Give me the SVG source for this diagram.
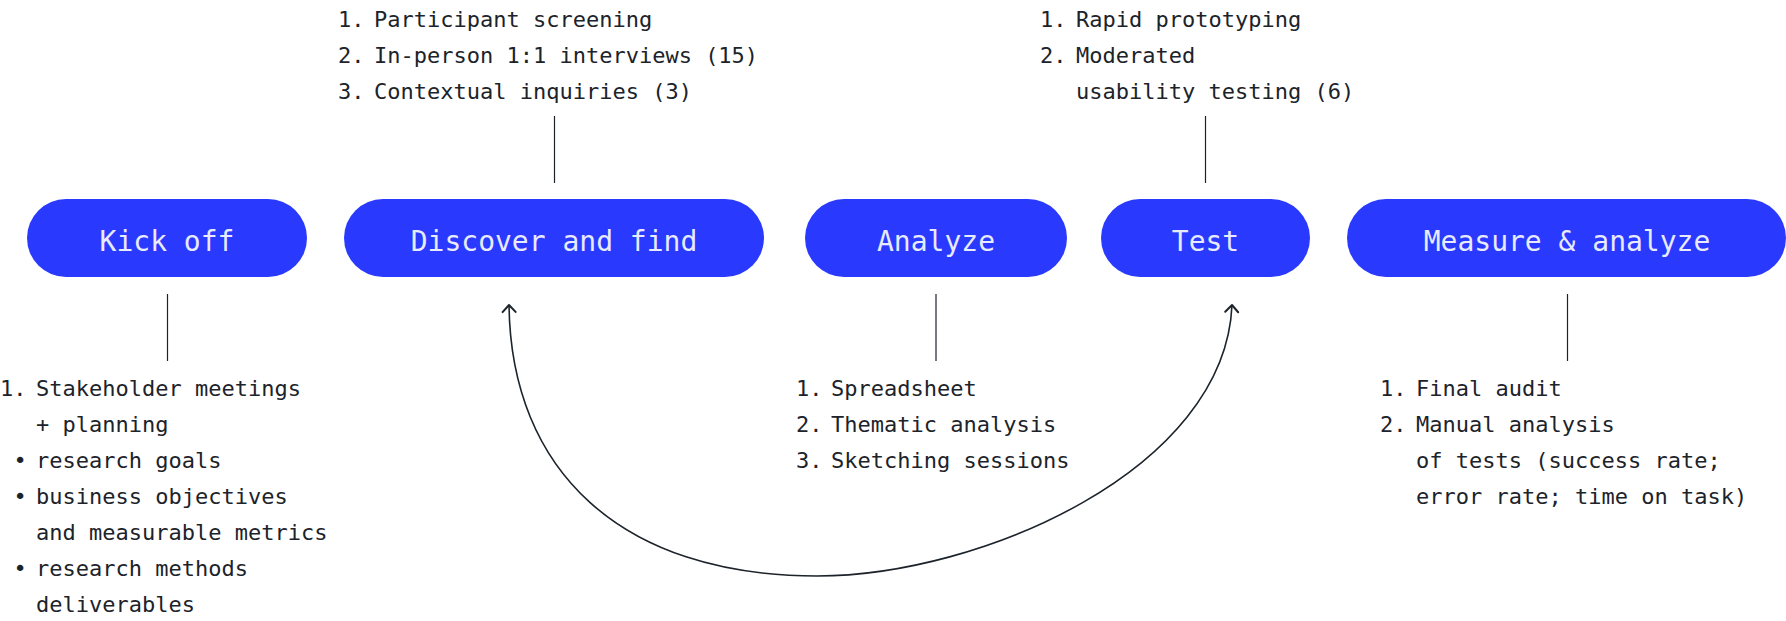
<svg xmlns="http://www.w3.org/2000/svg" width="1786" height="621" viewBox="0 0 1786 621">
<style>
.pill{fill:#2939fe}
.pt{font-family:"DejaVu Sans Mono","Liberation Mono",monospace;font-size:28px;fill:#e8eaff;text-anchor:middle}
.t{font-family:"DejaVu Sans Mono","Liberation Mono",monospace;font-size:22px;fill:#1c232a}
.ln{stroke:#1c232a;stroke-width:1.2;fill:none}
.curve{stroke:#1c232a;stroke-width:1.6;fill:none}
.ah{stroke:#1c232a;stroke-width:2;fill:none;stroke-linecap:round;stroke-linejoin:round}
</style>
<defs>
<marker id="arr" markerUnits="userSpaceOnUse" viewBox="-10 -10 20 20" markerWidth="20" markerHeight="20" refX="0" refY="0" orient="auto-start-reverse">
<path class="ah" d="M-7,-6.5 L0,0 L-7,6.5"/>
</marker>
</defs>
<rect width="1786" height="621" fill="#ffffff"/>

<g id="connectors">
<line class="ln" x1="554.5" y1="116" x2="554.5" y2="183"/>
<line class="ln" x1="1205.5" y1="116" x2="1205.5" y2="183"/>
<line class="ln" x1="167.5" y1="294" x2="167.5" y2="361"/>
<line class="ln" x1="936" y1="294" x2="936" y2="361"/>
<line class="ln" x1="1567.5" y1="294" x2="1567.5" y2="361"/>
<path class="curve" d="M509,305 C511,470 620,576 817,576 C980,576 1225,470 1232,305" marker-start="url(#arr)" marker-end="url(#arr)"/>
</g>

<g id="node-kickoff">
<rect class="pill" x="27" y="199" width="280" height="78" rx="39"/>
<text class="pt" x="167" y="251">Kick off</text>
</g>
<g id="node-discover">
<rect class="pill" x="344" y="199" width="420" height="78" rx="39"/>
<text class="pt" x="554" y="251">Discover and find</text>
</g>
<g id="node-analyze">
<rect class="pill" x="805" y="199" width="262" height="78" rx="39"/>
<text class="pt" x="936" y="251">Analyze</text>
</g>
<g id="node-test">
<rect class="pill" x="1101" y="199" width="209" height="78" rx="39"/>
<text class="pt" x="1205.5" y="251">Test</text>
</g>
<g id="node-measure">
<rect class="pill" x="1347" y="199" width="439" height="78" rx="39"/>
<text class="pt" x="1567" y="251">Measure &amp; analyze</text>
</g>

<g id="notes-discover">
<text class="t" x="338" y="27">1.</text><text class="t" x="374" y="27">Participant screening</text>
<text class="t" x="338" y="63">2.</text><text class="t" x="374" y="63">In-person 1:1 interviews (15)</text>
<text class="t" x="338" y="99">3.</text><text class="t" x="374" y="99">Contextual inquiries (3)</text>
</g>
<g id="notes-test">
<text class="t" x="1040" y="27">1.</text><text class="t" x="1076" y="27">Rapid prototyping</text>
<text class="t" x="1040" y="63">2.</text><text class="t" x="1076" y="63">Moderated</text>
<text class="t" x="1076" y="99">usability testing (6)</text>
</g>
<g id="notes-kickoff">
<text class="t" x="0" y="396">1.</text><text class="t" x="36" y="396">Stakeholder meetings</text>
<text class="t" x="36" y="432">+ planning</text>
<text class="t" x="20" y="468" text-anchor="middle">•</text><text class="t" x="36" y="468">research goals</text>
<text class="t" x="20" y="504" text-anchor="middle">•</text><text class="t" x="36" y="504">business objectives</text>
<text class="t" x="36" y="540">and measurable metrics</text>
<text class="t" x="20" y="576" text-anchor="middle">•</text><text class="t" x="36" y="576">research methods</text>
<text class="t" x="36" y="612">deliverables</text>
</g>
<g id="notes-analyze">
<text class="t" x="796" y="396">1.</text><text class="t" x="831" y="396">Spreadsheet</text>
<text class="t" x="796" y="432">2.</text><text class="t" x="831" y="432">Thematic analysis</text>
<text class="t" x="796" y="468">3.</text><text class="t" x="831" y="468">Sketching sessions</text>
</g>
<g id="notes-measure">
<text class="t" x="1380" y="396">1.</text><text class="t" x="1416" y="396">Final audit</text>
<text class="t" x="1380" y="432">2.</text><text class="t" x="1416" y="432">Manual analysis</text>
<text class="t" x="1416" y="468">of tests (success rate;</text>
<text class="t" x="1416" y="504">error rate; time on task)</text>
</g>
</svg>
